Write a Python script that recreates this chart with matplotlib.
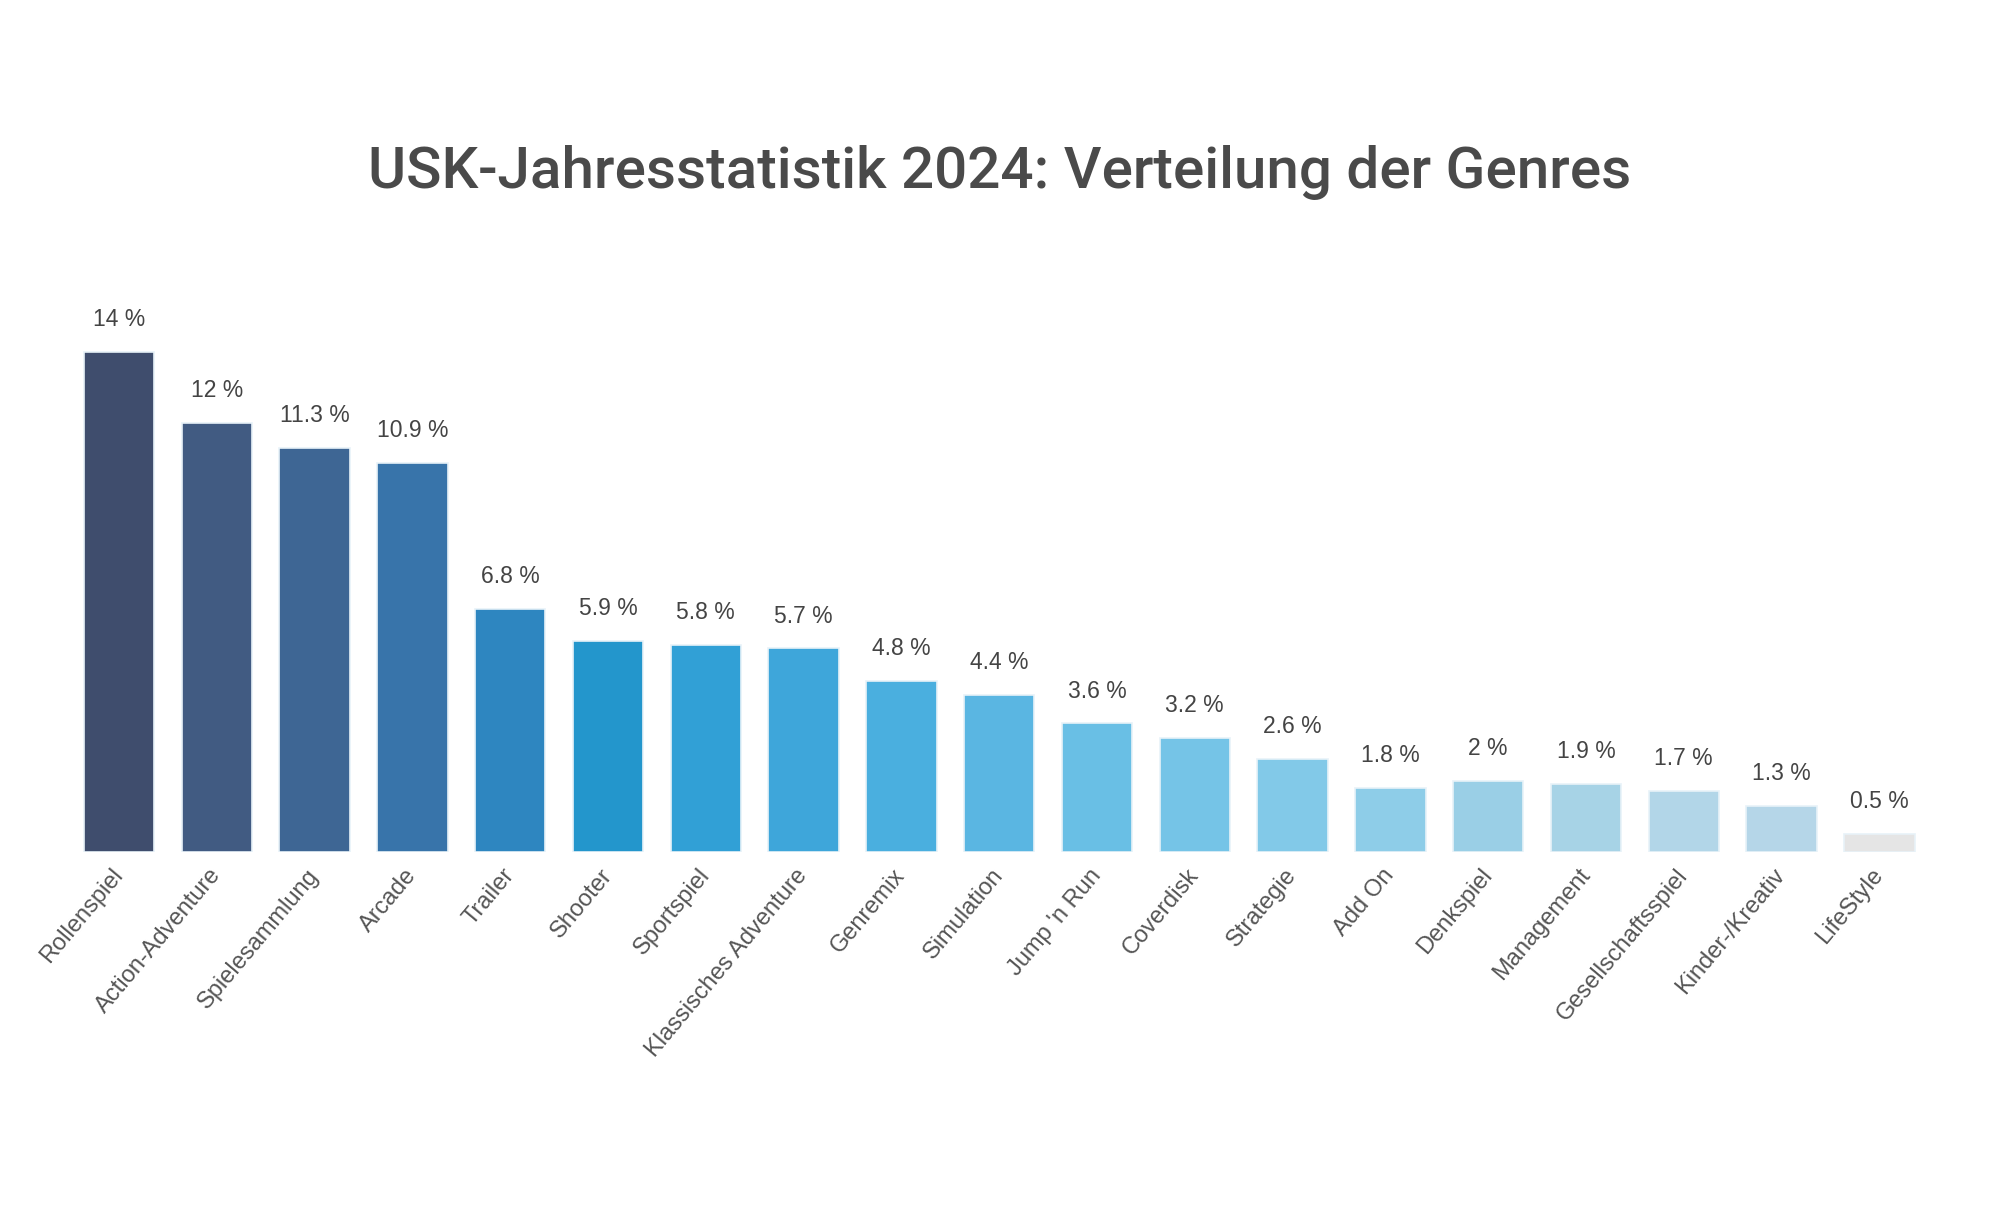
"""
USK-Jahresstatistik 2024: Verteilung der Genres.
Balkendiagramm mit Prozentwerten je Genre.
"""

import matplotlib
matplotlib.use('Agg')
import matplotlib.pyplot as plt


genres = [
    'Rollenspiel', 'Action-Adventure', 'Spielesammlung', 'Arcade', 'Trailer',
    'Shooter', 'Sportspiel', 'Klassisches Adventure', 'Genremix',
    'Simulation', "Jump 'n Run", 'Coverdisk', 'Strategie', 'Add On',
    'Denkspiel', 'Management', 'Gesellschaftsspiel', 'Kinder-/Kreativ',
    'LifeStyle',
]
anteile = [14, 12, 11.3, 10.9, 6.8, 5.9, 5.8, 5.7, 4.8, 4.4, 3.6, 3.2, 2.6,
           1.8, 2, 1.9, 1.7, 1.3, 0.5]
farben = [
    '#3f4d6d', '#415b82', '#3e6694', '#3874aa', '#2e86c0', '#2396cc',
    '#31a0d6', '#3ea6da', '#4aafdf', '#5ab6e2', '#69bfe5', '#75c4e7',
    '#82c9e8', '#8ecde8', '#9acfe6', '#a7d3e6', '#b2d6e8', '#b5d6e8',
    '#e5e5e5',
]
titulo = 'USK-Jahresstatistik 2024: Verteilung der Genres'


def etiqueta(v):
    """Formato: '14 %', '11.3 %'."""
    return f'{v:g} %'


fig = plt.figure(figsize=(20, 12.2), dpi=100)
ax = fig.add_axes([0.0302, 0.3016, 0.9388, 0.4394])

x = list(range(len(genres)))
barras = ax.bar(x, anteile, width=0.72, color=farben,
                edgecolor='#e8f2f8', linewidth=1.2)

ax.bar_label(barras, labels=[etiqueta(v) for v in anteile], padding=15,
             fontsize=16.5, color='#444444', family='Liberation Sans')

ax.set_xlim(-0.6, len(genres) - 0.4)
ax.set_ylim(0, 15)
ax.set_xticks(x)
ax.set_xticklabels(genres, rotation=50, ha='right', va='center',
                   rotation_mode='anchor', fontsize=17, color='#555555',
                   family='Liberation Sans')
ax.tick_params(axis='x', length=0, pad=14)
ax.set_yticks([])
for lado in ax.spines.values():
    lado.set_visible(False)

fig.text(0.5, 0.859, titulo, ha='center', va='center', fontsize=42,
         color='#4a4a4a', family='Roboto', fontweight='medium')

fig.savefig('out.png', dpi=100, facecolor='white')
